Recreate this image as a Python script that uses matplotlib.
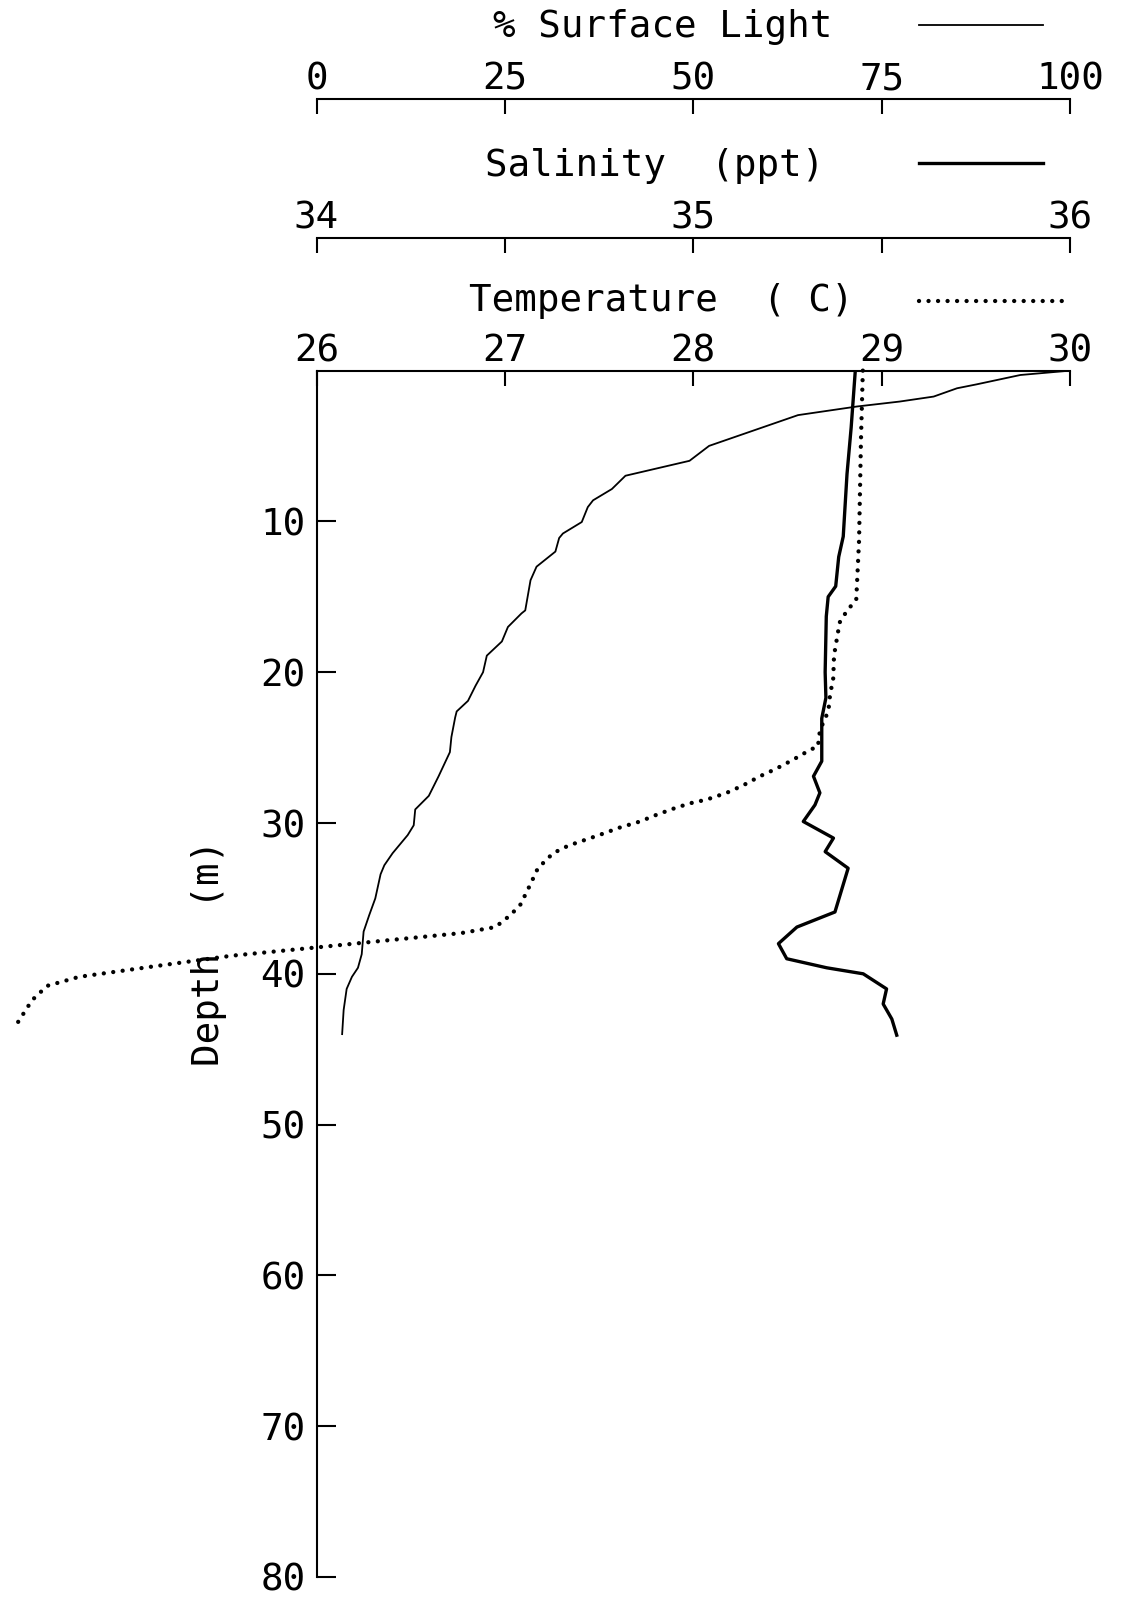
import matplotlib
matplotlib.use("Agg")
import matplotlib.pyplot as plt

# Depth profile
light_depth = [0, 0.29, 0.91, 1.17, 1.72, 2.05, 2.38, 2.95, 4.99, 5.98, 6.97, 7.85, 8.6, 9.05,
               10.04, 10.8, 11.1, 12.0, 13.0, 13.9, 15.9, 16.1, 17.0, 17.96, 18.9, 20.0, 20.9,
               21.9, 22.6, 23.0, 24.3, 25.3, 26.9, 28.2, 29.1, 30.15, 30.8, 32.0, 32.8, 33.4,
               35.0, 36.1, 37.2, 38.7, 39.6, 40.2, 41.0, 42.4, 44.0]
light_pct = [100, 93.4, 87.6, 85.0, 81.9, 77.4, 71.7, 63.9, 52.1, 49.5, 41.0, 39.2, 36.7, 36.0,
             35.2, 32.7, 32.2, 31.7, 29.2, 28.4, 27.7, 27.2, 25.4, 24.6, 22.6, 22.1, 21.1,
             20.1, 18.6, 18.4, 17.9, 17.7, 16.2, 14.9, 13.1, 12.9, 12.1, 10.1, 9.0, 8.5,
             7.8, 7.0, 6.25, 6.0, 5.5, 4.7, 4.0, 3.6, 3.4]

sal_depth = [0, 3.78, 6.86, 11.0, 12.35, 14.3, 15.0, 16.3, 20.0, 21.7, 23.06, 25.9, 26.9, 28.0,
             28.8, 29.9, 31.0, 31.9, 33.0, 35.9, 36.9, 38.0, 39.0, 39.6, 40.0, 41.0, 42.0,
             43.0, 44.07]
sal_ppt = [35.43, 35.419, 35.408, 35.398, 35.386, 35.378, 35.358, 35.353, 35.350, 35.352,
           35.341, 35.341, 35.319, 35.336, 35.323, 35.292, 35.372, 35.35, 35.411, 35.376,
           35.275, 35.226, 35.248, 35.354, 35.451, 35.513, 35.504, 35.527, 35.54]

temp_depth = [0, 4.66, 11.25, 15.2, 15.9, 16.7, 18.9, 20.4, 21.5, 22.6, 23.3, 24.3, 24.9, 25.15,
              25.8, 26.4, 26.9, 27.5, 28.0, 28.45, 28.7, 29.05, 29.45, 29.9, 30.3, 30.8, 31.5,
              32.0, 33.0, 34.1, 35.4, 36.1, 36.9, 37.3, 37.8, 38.25, 38.8, 39.5, 40.2, 40.8,
              41.75, 43.7]
temp_c = [28.90, 28.89, 28.88, 28.865, 28.817, 28.777, 28.747, 28.743, 28.726, 28.717, 28.69,
          28.664, 28.664, 28.62, 28.53, 28.44, 28.354, 28.265, 28.177, 28.07, 27.98, 27.894,
          27.806, 27.717, 27.61, 27.5, 27.337, 27.256, 27.175, 27.134, 27.083, 27.03, 26.95,
          26.768, 26.36, 26.0, 25.55, 25.14, 24.74, 24.57, 24.49, 24.39]

depth_ticks = [10, 20, 30, 40, 50, 60, 70, 80]
temp_ticks = [26, 27, 28, 29, 30]
sal_ticks = [34, 34.5, 35, 35.5, 36]
sal_labels = ["34", "", "35", "", "36"]
light_ticks = [0, 25, 50, 75, 100]

plt.rcParams['font.family'] = 'DejaVu Sans Mono'
plt.rcParams['font.size'] = 27

fig = plt.figure(figsize=(11.22, 16.01), dpi=100)
ax = fig.add_axes([0.2821, 0.0150, 0.6716, 0.7535])

# twin axes for salinity and light, their scales drawn as offset top spines
ax_sal = ax.twiny()
ax_light = ax.twiny()

for a, pos in [(ax_sal, 1.1100), (ax_light, 1.2252)]:
    for s in ['left', 'right', 'bottom']:
        a.spines[s].set_visible(False)
    a.spines['top'].set_position(('axes', pos))
    a.spines['top'].set_linewidth(1.5)
    a.xaxis.tick_top()
    a.tick_params(axis='x', direction='in', length=11, width=1.5, pad=1)

ax_sal.set_xlim(34, 36)
ax_sal.set_xticks(sal_ticks)
ax_sal.set_xticklabels(sal_labels)
ax_light.set_xlim(0, 100)
ax_light.set_xticks(light_ticks)

# main axes: temperature on top, depth down the left
ax.set_xlim(26, 30)
ax.set_ylim(80, 0)
for s in ['right', 'bottom']:
    ax.spines[s].set_visible(False)
for s in ['top', 'left']:
    ax.spines[s].set_linewidth(1.5)
ax.xaxis.tick_top()
ax.set_xticks(temp_ticks)
ax.set_yticks(depth_ticks)
ax.tick_params(axis='x', direction='in', length=11, width=1.5, pad=1)
ax.tick_params(axis='y', direction='in', length=13.5, width=1.5, pad=8)
ax.set_ylabel('Depth  (m)', va='center', ha='center')
ax.yaxis.set_label_coords(-0.1427, 0.517)

dots = dict(color='black', lw=3.1, linestyle=(0, (0.01, 2.2)), dash_capstyle='round')
ax.plot(temp_c, temp_depth, clip_on=False, **dots)
ax_sal.plot(sal_ppt, sal_depth, color='black', lw=2.4)
ax_light.plot(light_pct, light_depth, color='black', lw=1.3)

# key: name of each scale with a sample of its line (figure coordinates)
fig.text(0.591, 0.9769, '% Surface Light', ha='center', va='baseline')
fig.add_artist(plt.Line2D([0.8191, 0.9296], [0.9841, 0.9841], color='black', lw=1.3))
fig.text(0.5833, 0.8903, 'Salinity  (ppt)', ha='center', va='baseline')
fig.add_artist(plt.Line2D([0.8191, 0.9296], [0.8979, 0.8979], color='black', lw=2.4))
fig.text(0.5891, 0.8055, 'Temperature  ( C)', ha='center', va='baseline')
fig.add_artist(plt.Line2D([0.8191, 0.9537], [0.8120, 0.8120], **dots))

fig.savefig('out.png', dpi=100, facecolor='white')
